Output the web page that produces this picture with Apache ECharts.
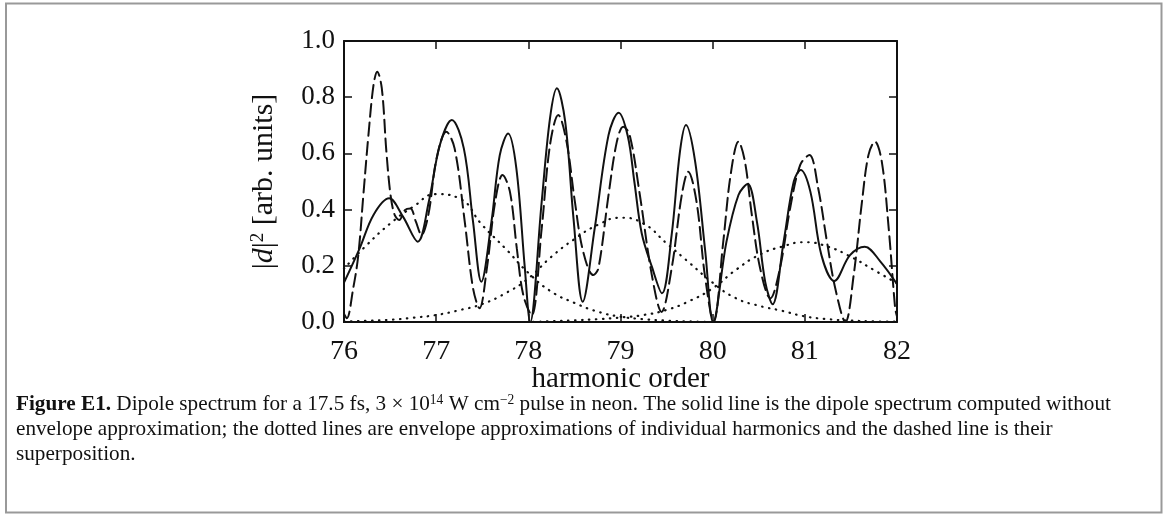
<!DOCTYPE html>
<html>
<head>
<meta charset="utf-8">
<script src="https://cdn.jsdelivr.net/npm/echarts@6/dist/echarts.min.js"></script>
<style>
html,body{margin:0;padding:0;background:#fff;}
#c{width:1166px;height:515px;}
</style>
</head>
<body>
<div id="c"></div>
<script>
// ---- data ----
const solidH = [76.0,76.17,76.32,76.49,76.64,76.80,76.92,77.04,77.17,77.30,77.40,77.49,77.60,77.69,77.78,77.87,77.96,78.02,78.145,78.235,78.31,78.40,78.49,78.59,78.72,78.87,78.98,79.08,79.15,79.23,79.34,79.45,79.555,79.645,79.71,79.81,79.92,80.005,80.15,80.28,80.38,80.48,80.57,80.65,80.77,80.88,80.955,81.06,81.18,81.32,81.49,81.65,81.82,82.0];
const solidV = [0.14,0.262,0.381,0.44,0.375,0.286,0.428,0.63,0.719,0.618,0.357,0.143,0.357,0.594,0.671,0.547,0.2,0.0,0.428,0.725,0.832,0.713,0.369,0.072,0.333,0.665,0.745,0.66,0.50,0.316,0.197,0.102,0.31,0.606,0.701,0.571,0.25,0.0,0.286,0.452,0.491,0.357,0.143,0.063,0.286,0.5,0.541,0.464,0.238,0.146,0.238,0.268,0.215,0.135];

const dashedH = [76.0,76.03,76.10,76.155,76.21,76.265,76.32,76.36,76.41,76.46,76.505,76.55,76.6,76.66,76.72,76.78,76.84,76.915,77.005,77.11,77.2,77.31,77.40,77.47,77.55,77.64,77.72,77.80,77.875,77.945,78.035,78.145,78.235,78.325,78.415,78.505,78.595,78.705,78.76,78.87,78.96,79.03,79.10,79.21,79.34,79.445,79.555,79.665,79.735,79.825,79.915,80.01,80.115,80.195,80.28,80.35,80.425,80.515,80.625,80.73,80.84,80.95,81.05,81.145,81.24,81.33,81.44,81.53,81.62,81.69,81.76,81.835,81.91,81.98,82.0];
const dashedV = [0.03,0.013,0.12,0.238,0.452,0.665,0.843,0.891,0.832,0.606,0.452,0.381,0.363,0.398,0.404,0.357,0.31,0.381,0.583,0.677,0.618,0.357,0.12,0.049,0.191,0.428,0.523,0.464,0.262,0.096,0.024,0.333,0.63,0.737,0.641,0.428,0.25,0.167,0.191,0.452,0.641,0.695,0.665,0.452,0.167,0.036,0.191,0.452,0.535,0.428,0.167,0.0,0.286,0.524,0.642,0.571,0.381,0.191,0.084,0.191,0.404,0.559,0.594,0.476,0.286,0.12,0.0,0.167,0.428,0.594,0.642,0.571,0.333,0.049,0.02];

const envH = [76.0,76.25,76.5,76.75,77.0,77.25,77.5,77.75,78.0,78.25,78.5,78.75,79.0,79.25,79.5,79.75,80.0,80.25,80.5,80.75,81.0,81.25,81.5,81.75,82.0];
const envA = [0.19,0.275,0.35,0.41,0.455,0.44,0.345,0.262,0.175,0.108,0.068,0.037,0.019,0.01,0.005,0.002,0,0,0,0,0,0,0,0,0];
const envB = [0.002,0.004,0.008,0.015,0.025,0.042,0.064,0.102,0.155,0.232,0.295,0.345,0.371,0.35,0.28,0.21,0.14,0.085,0.058,0.04,0.02,0.01,0.005,0.002,0.001];
const envC = [0,0,0,0,0,0,0,0,0,0.003,0.006,0.01,0.016,0.025,0.043,0.075,0.12,0.185,0.238,0.268,0.284,0.268,0.232,0.185,0.138];

const xMin = 76, xMax = 82, xStep = 1;
const yMin = 0, yMax = 1, yStep = 0.2;

const xTitle = 'harmonic order';
const captionLines = [
  '{b|Figure E1.} Dipole spectrum for a 17.5 fs, 3 \u00d7 10{s|14} W cm{s|\u22122} pulse in neon. The solid line is the dipole spectrum computed without',
  'envelope approximation; the dotted lines are envelope approximations of individual harmonics and the dashed line is their',
  'superposition.'
];

// ---- chart ----
const zip = (a, b) => a.map((v, i) => [v, b[i]]);
const SERIF = '"Liberation Serif", "DejaVu Serif", serif';
const chart = echarts.init(document.getElementById('c'), null, {renderer: 'canvas'});

const baseX = {
  type: 'value', min: xMin, max: xMax, interval: xStep,
  axisLine: {show: true, onZero: false, lineStyle: {color: '#111', width: 2}},
  axisTick: {show: true, inside: true, length: 8, lineStyle: {color: '#111', width: 1.5}},
  splitLine: {show: false}
};
const baseY = {
  type: 'value', min: yMin, max: yMax, interval: yStep,
  axisLine: {show: true, onZero: false, lineStyle: {color: '#111', width: 2}},
  axisTick: {show: true, inside: true, length: 8, lineStyle: {color: '#111', width: 1.5}},
  splitLine: {show: false}
};

const lineSeries = (data, type, width, smooth, z) => ({
  type: 'line', data: data, showSymbol: false, symbol: 'none', smooth: smooth, clip: true, z: z,
  lineStyle: {color: '#111', width: width, type: type, cap: type === 'solid' ? 'butt' : 'round'},
  emphasis: {disabled: true}, silent: true, animation: false
});

chart.setOption({
  animation: false,
  backgroundColor: '#fff',
  grid: {left: 344, top: 41, width: 553, height: 281, containLabel: false},
  xAxis: [
    Object.assign({}, baseX, {
      position: 'bottom',
      axisLabel: {show: true, margin: 16, color: '#111', fontFamily: SERIF, fontSize: 28},
      name: xTitle, nameLocation: 'middle', nameGap: 43, nameMoveOverlap: false,
      nameTextStyle: {color: '#111', fontFamily: SERIF, fontSize: 29}
    }),
    Object.assign({}, baseX, {position: 'top', axisLabel: {show: false}})
  ],
  yAxis: [
    Object.assign({}, baseY, {
      position: 'left',
      axisLabel: {show: true, margin: 9, color: '#111', fontFamily: SERIF, fontSize: 27,
        formatter: v => v.toFixed(1)},
      name: '|{i|d}|{s|2} [arb. units]', nameLocation: 'middle', nameGap: 64, nameRotate: 90,
      nameTextStyle: {color: '#111', fontFamily: SERIF, fontSize: 30,
        rich: {
          i: {fontStyle: 'italic', fontFamily: SERIF, fontSize: 30, color: '#111'},
          s: {fontFamily: SERIF, fontSize: 19, color: '#111', verticalAlign: 'top', padding: [0, 0, 12, 0]}
        }}
    }),
    Object.assign({}, baseY, {position: 'right', axisLabel: {show: false}})
  ],
  series: [
    lineSeries(zip(envH, envA), [0.5, 6.5], 2.2, 0.5, 2),
    lineSeries(zip(envH, envB), [0.5, 6.5], 2.2, 0.5, 2),
    lineSeries(zip(envH, envC), [0.5, 6.5], 2.2, 0.5, 2),
    lineSeries(zip(dashedH, dashedV), [13, 6], 2, 0.35, 3),
    lineSeries(zip(solidH, solidV), 'solid', 2, 0.35, 4)
  ],
  graphic: [
    {type: 'rect', shape: {x: 6, y: 3.5, width: 1155.5, height: 509}, style: {fill: 'none', stroke: '#999', lineWidth: 2}, silent: true},
    {type: 'group', left: 16, top: 393, children: captionLines.map((t, i) => ({
      type: 'text', x: 0, y: i * 25, scaleX: 0.964,
      style: {
        text: t, fill: '#111', fontFamily: SERIF, fontSize: 22,
        rich: {
          b: {fontWeight: 'bold', fontFamily: SERIF, fontSize: 22, fill: '#111'},
          s: {fontFamily: SERIF, fontSize: 14, fill: '#111', verticalAlign: 'top', padding: [0, 0, 9, 0]}
        }
      }
    }))}
  ]
});
</script>
</body>
</html>
